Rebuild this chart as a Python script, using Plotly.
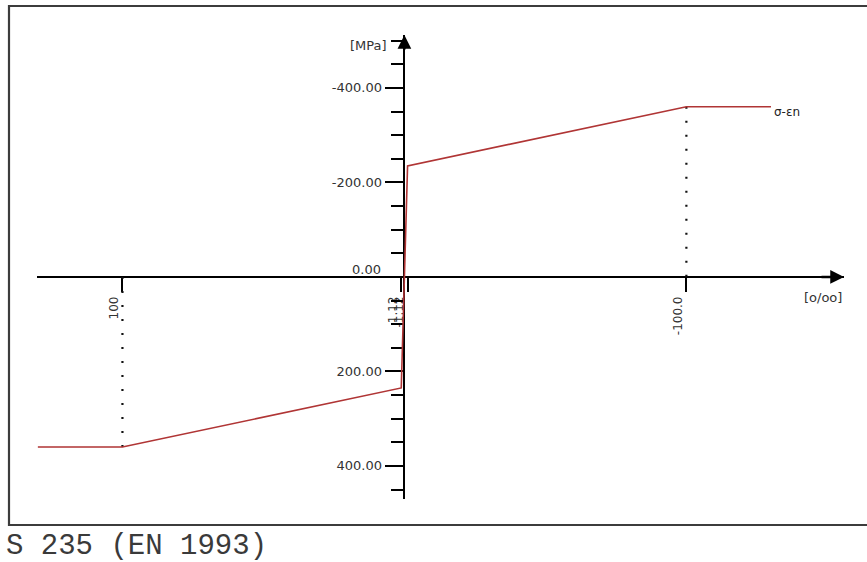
import plotly.graph_objects as go

# ---- data ----
strain = [130, 100, 1.12, 0, -1.12, -100, -130]          # [o/oo]
stress = [360, 360, 235, 0, -235, -360, -360]            # [MPa]
guide_x = [100, 100, None, -100, -100]
guide_y = [0, 360, None, -360, 0]
x_tickvals = [100, 1.12, -1.12, -100]
x_ticktext = ["100", "1.12", "-1.12", "-100.0"]
y_tickvals = [-400, -200, 200, 400]
y_ticktext = ["-400.00", "-200.00", "200.00", "400.00"]
origin_label = "0.00"
material = "S 235 (EN 1993)"
curve_name = "σ-εn"

# ---- layout constants (pixels) ----
W, H = 867, 562
L, R, T, B = 37, 844, 35, 499
pw, ph = R - L, B - T
x_range = [130.3, -155.9]
y_range = [470, -512]


def px(x):
    return (x - L) / pw


def py(y):
    return (B - y) / ph


x0_frac = (x_range[0] - 0) / (x_range[0] - x_range[1])
y0_frac = (y_range[0] - 0) / (y_range[0] - y_range[1])

fig = go.Figure()
fig.add_trace(go.Scatter(x=guide_x, y=guide_y, mode="lines",
                         line=dict(color="#111", width=2.2, dash="2px,12px"),
                         hoverinfo="skip", showlegend=False))
fig.add_trace(go.Scatter(x=strain, y=stress, mode="lines",
                         line=dict(color="#b03535", width=1.6),
                         showlegend=False))

tick_font = dict(family="DejaVu Sans", size=13, color="#333")
fig.update_layout(
    width=W, height=H,
    margin=dict(l=L, r=W - R, t=T, b=H - B, pad=0),
    paper_bgcolor="white", plot_bgcolor="white",
    xaxis=dict(range=x_range, anchor="free", position=y0_frac, side="bottom",
               showgrid=False, zeroline=False, showline=True, linecolor="black",
               linewidth=1.6, ticks="outside", ticklen=14, tickwidth=1.6,
               tickcolor="black", tickmode="array", tickvals=x_tickvals,
               ticktext=x_ticktext, tickangle=-90, ticklabelshift=8,
               tickfont=dict(family="DejaVu Sans", size=12, color="#333"),
               layer="below traces"),
    yaxis=dict(range=y_range, anchor="free", position=x0_frac, side="left",
               showgrid=False, zeroline=False, showline=True, linecolor="black",
               linewidth=1.6, ticks="outside", ticklen=19, tickwidth=1.6,
               tickcolor="black", tickmode="array", tickvals=y_tickvals,
               ticktext=y_ticktext, tickfont=tick_font,
               minor=dict(tickmode="linear", tick0=0, dtick=50, ticklen=13,
                          tickwidth=1.6, tickcolor="black", ticks="outside"),
               layer="below traces"),
)

# frame around chart
fig.add_shape(type="rect", xref="paper", yref="paper",
              x0=px(9), x1=px(872), y0=py(525), y1=py(6),
              line=dict(color="#3c3c3c", width=2.2), layer="below")

ann_font = dict(family="DejaVu Sans", size=13, color="#333")
fig.add_annotation(x=px(383), y=0, xref="paper", yref="y", yshift=7,
                   text=origin_label, showarrow=False, xanchor="right",
                   yanchor="middle", font=tick_font)
fig.add_annotation(x=px(389), y=py(46), xref="paper", yref="paper",
                   text="[MPa]", showarrow=False, xanchor="right",
                   yanchor="middle", font=ann_font)
fig.add_annotation(x=px(772), y=py(112), xref="paper", yref="paper",
                   text=curve_name, showarrow=False, xanchor="left",
                   yanchor="middle", font=dict(family="DejaVu Sans", size=12, color="#222"))
fig.add_annotation(x=px(802), y=py(297), xref="paper", yref="paper",
                   text="[o/oo]", showarrow=False, xanchor="left",
                   yanchor="middle", font=ann_font)
fig.add_annotation(x=px(4), y=py(546), xref="paper", yref="paper",
                   text=material, showarrow=False, xanchor="left",
                   yanchor="middle",
                   font=dict(family="Liberation Mono", size=29, color="#3a3a3a"))

# axis arrows
fig.add_annotation(x=1, y=0, xref="paper", yref="y", ax=-24, ay=0,
                   text="", showarrow=True, arrowhead=2, arrowsize=1.1,
                   arrowwidth=2.5, arrowcolor="black")
fig.add_annotation(x=0, y=1, xref="x", yref="paper", ax=0, ay=16,
                   text="", showarrow=True, arrowhead=2, arrowsize=1.1,
                   arrowwidth=2.5, arrowcolor="black")

fig.write_html("out.html")
